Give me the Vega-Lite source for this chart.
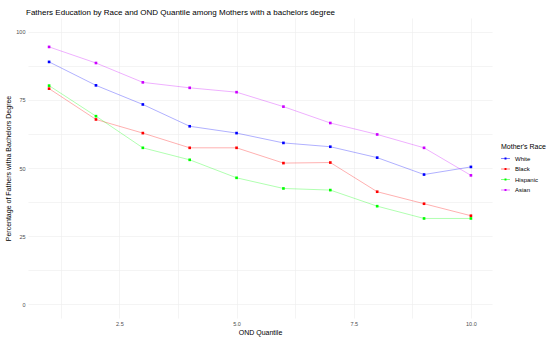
{
  "$schema": "https://vega.github.io/schema/vega-lite/v6.json",
  "width": 464,
  "height": 300,
  "autosize": {"type": "none"},
  "padding": {"left": 28, "top": 18, "right": 58, "bottom": 26},
  "background": "white",
  "title": {
    "text": "Fathers Education by Race and OND Quantile among Mothers with a bachelors degree",
    "anchor": "start",
    "frame": "group",
    "font": "Liberation Sans",
    "fontSize": 8,
    "fontWeight": "normal",
    "color": "#000000",
    "dx": -2,
    "offset": 1
  },
  "config": {
    "view": {"stroke": null},
    "font": "Liberation Sans"
  },
  "data": {
    "values": [
      {"q": 1, "race": "White", "pct": 88.9},
      {"q": 2, "race": "White", "pct": 80.3},
      {"q": 3, "race": "White", "pct": 73.3},
      {"q": 4, "race": "White", "pct": 65.3},
      {"q": 5, "race": "White", "pct": 62.8},
      {"q": 6, "race": "White", "pct": 59.2},
      {"q": 7, "race": "White", "pct": 57.8},
      {"q": 8, "race": "White", "pct": 53.8},
      {"q": 9, "race": "White", "pct": 47.6},
      {"q": 10, "race": "White", "pct": 50.4},
      {"q": 1, "race": "Black", "pct": 79.1},
      {"q": 2, "race": "Black", "pct": 67.8},
      {"q": 3, "race": "Black", "pct": 62.8},
      {"q": 4, "race": "Black", "pct": 57.4},
      {"q": 5, "race": "Black", "pct": 57.4},
      {"q": 6, "race": "Black", "pct": 51.8},
      {"q": 7, "race": "Black", "pct": 52.0},
      {"q": 8, "race": "Black", "pct": 41.3},
      {"q": 9, "race": "Black", "pct": 36.9},
      {"q": 10, "race": "Black", "pct": 32.5},
      {"q": 1, "race": "Hispanic", "pct": 80.2},
      {"q": 2, "race": "Hispanic", "pct": 69.0},
      {"q": 3, "race": "Hispanic", "pct": 57.4},
      {"q": 4, "race": "Hispanic", "pct": 53.0},
      {"q": 5, "race": "Hispanic", "pct": 46.4},
      {"q": 6, "race": "Hispanic", "pct": 42.5},
      {"q": 7, "race": "Hispanic", "pct": 41.9},
      {"q": 8, "race": "Hispanic", "pct": 36.0},
      {"q": 9, "race": "Hispanic", "pct": 31.5},
      {"q": 10, "race": "Hispanic", "pct": 31.5},
      {"q": 1, "race": "Asian", "pct": 94.4},
      {"q": 2, "race": "Asian", "pct": 88.5},
      {"q": 3, "race": "Asian", "pct": 81.4},
      {"q": 4, "race": "Asian", "pct": 79.4},
      {"q": 5, "race": "Asian", "pct": 77.8},
      {"q": 6, "race": "Asian", "pct": 72.5},
      {"q": 7, "race": "Asian", "pct": 66.5},
      {"q": 8, "race": "Asian", "pct": 62.3},
      {"q": 9, "race": "Asian", "pct": 57.4},
      {"q": 10, "race": "Asian", "pct": 47.3}
    ]
  },
  "encoding": {
    "x": {
      "field": "q",
      "type": "quantitative",
      "scale": {"domain": [0.55, 10.45], "nice": false, "zero": false},
      "axis": {
        "title": "OND Quantile",
        "titleFont": "Liberation Sans",
        "titleFontSize": 7,
        "titleFontWeight": "normal",
        "titleColor": "#000000",
        "titlePadding": 2,
        "values": [1.25, 2.5, 3.75, 5, 6.25, 7.5, 8.75, 10],
        "format": ".1f",
        "labelExpr": "(datum.value * 10) % 25 == 0 ? datum.label : ''",
        "labelFontSize": 5.5,
        "labelColor": "#4d4d4d",
        "labelPadding": 3,
        "ticks": false,
        "domain": false,
        "grid": true,
        "gridColor": "#ededed",
        "gridWidth": 0.6
      }
    },
    "y": {
      "field": "pct",
      "type": "quantitative",
      "scale": {"domain": [-5, 105], "nice": false, "zero": false},
      "axis": {
        "title": "Percentage of Fathers witha Bachelors Degree",
        "titleFont": "Liberation Sans",
        "titleFontSize": 7,
        "titleFontWeight": "normal",
        "titleColor": "#000000",
        "titlePadding": 4,
        "values": [0, 12.5, 25, 37.5, 50, 62.5, 75, 87.5, 100],
        "labelExpr": "datum.value % 25 == 0 ? datum.label : ''",
        "labelFontSize": 5.5,
        "labelColor": "#4d4d4d",
        "labelPadding": 3,
        "ticks": false,
        "domain": false,
        "grid": true,
        "gridColor": "#ededed",
        "gridWidth": 0.6
      }
    },
    "color": {
      "field": "race",
      "type": "nominal",
      "scale": {
        "domain": ["White", "Black", "Hispanic", "Asian"],
        "range": ["#0000FF", "#FF0000", "#00FF00", "#CC00FF"]
      },
      "legend": {
        "title": "Mother's Race",
        "titleFont": "Liberation Sans",
        "titleFontSize": 7,
        "titleFontWeight": "normal",
        "titleColor": "#000000",
        "titlePadding": 4,
        "labelFontSize": 6,
        "labelColor": "#000000",
        "orient": "none",
        "legendX": 473,
        "legendY": 125,
        "symbolType": "M-1,-0.06H1V0.06H-1Z M-0.22,-0.22H0.22V0.22H-0.22Z",
        "symbolSize": 80,
        "symbolStrokeWidth": 0,
        "symbolOpacity": 1,
        "rowPadding": 2.5,
        "labelOffset": 5
      }
    }
  },
  "layer": [
    {
      "mark": {"type": "line", "strokeWidth": 0.9, "opacity": 0.35}
    },
    {
      "mark": {"type": "point", "filled": true, "size": 7, "opacity": 1, "shape": "square"}
    }
  ]
}
